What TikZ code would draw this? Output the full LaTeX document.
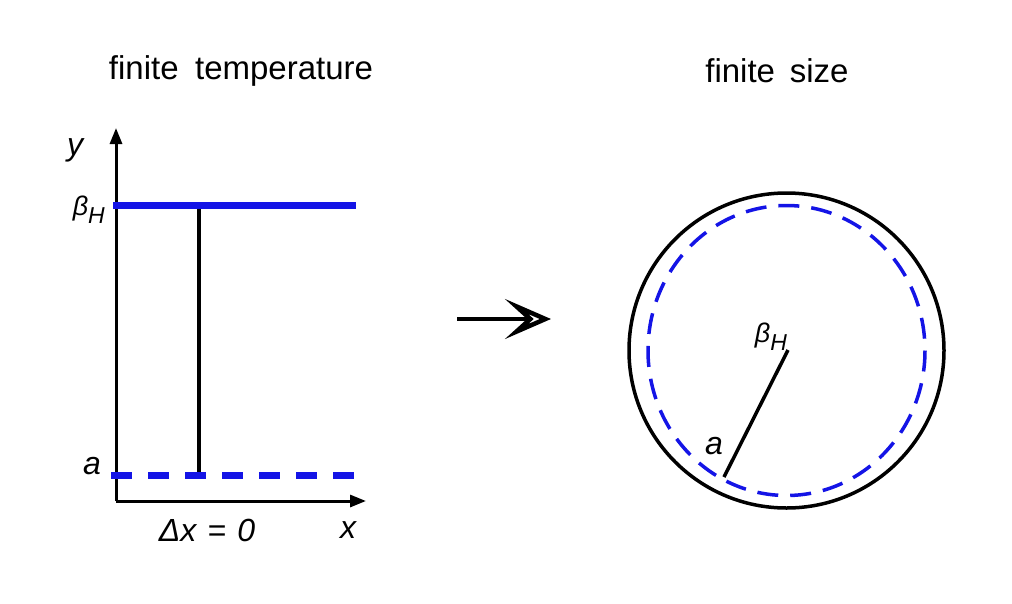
\documentclass[tikz,border=0pt]{standalone}
\usepackage{fontspec}
\setmainfont{Liberation Sans}
\usetikzlibrary{arrows.meta}
\begin{document}
\begin{tikzpicture}[x=1pt,y=-1pt,
  title/.style={font=\fontsize{33}{40}\selectfont, inner sep=0pt},
  lbl/.style={font=\fontsize{32}{38}\selectfont\itshape, inner sep=0pt},
  slbl/.style={font=\fontsize{27}{32}\selectfont\itshape, inner sep=0pt},
  axis/.style={line width=3pt, -{Triangle[length=16pt,width=12pt]}},
  blueline/.style={draw={rgb,255:red,20;green,20;blue,230}, line width=7pt},
  bluedash/.style={draw={rgb,255:red,20;green,20;blue,230}, line width=3.5pt, dash pattern=on 21pt off 12pt},
  blackline/.style={line width=3.5pt}]
\useasboundingbox (0,0) rectangle (1012,603);
% titles
\node[title] (t1) at (241,71) {finite\hspace{0.5em}temperature};
\node[title] (t2) at (777,71) {finite\hspace{0.45em}size};
% axes
\coordinate (O) at (116,501);
\coordinate (ytop) at (116,128);
\coordinate (xend) at (366,501);
\draw[axis] (O) -- (ytop);
\draw[axis] (O) -- (xend);
% lines
\coordinate (bl) at (113,205);
\coordinate (br) at (356,205);
\coordinate (al) at (111,475);
\coordinate (ar) at (356,475);
\coordinate (vt) at (199,205);
\coordinate (vb) at (199,475);
\draw[blackline] (vt) -- (vb);
\draw[blueline] (bl) -- (br);
\draw[draw={rgb,255:red,20;green,20;blue,230}, line width=7pt, dash pattern=on 21pt off 16pt] (al) -- (ar);
% labels
\node[lbl] (ly) at (75,150) {y};
\node[slbl, anchor=east] (lb) at (105,210) {β\raisebox{-0.3em}{\fontsize{23}{27}\selectfont H}};
\node[lbl] (la) at (92,466) {a};
\node[lbl] (ldx) at (207,530) {Δx\hspace{0.35em}=\hspace{0.35em}0};
\node[lbl] (lx) at (348,530) {x};
% big arrow
\coordinate (as) at (457,319);
\coordinate (ae) at (551,319);
\draw[line width=4pt, -{Stealth[open, length=46pt, width=40pt, inset=22pt, line width=4.5pt]}] (as) -- (ae);
% circle
\coordinate (C) at (786.5,350.5);
\draw[blackline] (C) circle (157.5);
\draw[bluedash] (C) ellipse (138.5 and 145);
\coordinate (R) at (724,477);
\draw[blackline] (788,350) -- (R);
\node[slbl] (cb) at (771,337) {β\raisebox{-0.3em}{\fontsize{23}{27}\selectfont H}};
\node[lbl] (ca) at (714,446) {a};
\end{tikzpicture}
\end{document}
